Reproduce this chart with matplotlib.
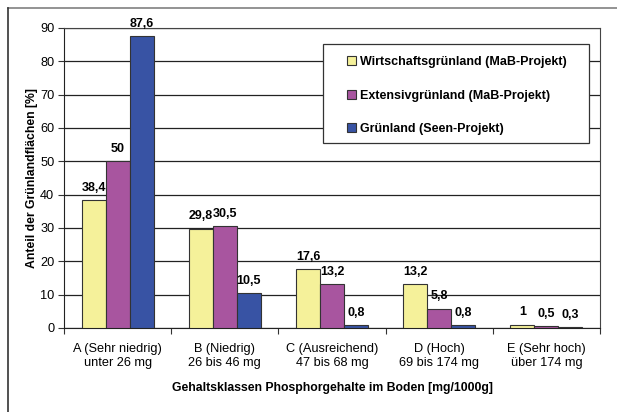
import numpy as np
import matplotlib.pyplot as plt
from matplotlib.lines import Line2D
from matplotlib.patches import Rectangle

plt.rcParams["font.family"] = ["Liberation Sans", "DejaVu Sans"]

# data
categories = ["A (Sehr niedrig)\nunter 26 mg", "B (Niedrig)\n26 bis 46 mg",
              "C (Ausreichend)\n47 bis 68 mg", "D (Hoch)\n69 bis 174 mg",
              "E (Sehr hoch)\nüber 174 mg"]
series_names = ["Wirtschaftsgrünland (MaB-Projekt)",
                "Extensivgrünland (MaB-Projekt)",
                "Grünland (Seen-Projekt)"]
wirtschaft = [38.4, 29.8, 17.6, 13.2, 1]
extensiv = [50, 30.5, 13.2, 5.8, 0.5]
seen = [87.6, 10.5, 0.8, 0.8, 0.3]
labels_w = ["38,4", "29,8", "17,6", "13,2", "1"]
labels_e = ["50", "30,5", "13,2", "5,8", "0,5"]
labels_s = ["87,6", "10,5", "0,8", "0,8", "0,3"]

colors = ["#F5F19A", "#A8559F", "#3853A4"]

W, H = 617, 412
fig = plt.figure(figsize=(W / 100, H / 100), dpi=100)

# outer chart frame (only top and left visible)
fig.add_artist(Line2D([7.5 / W, 1.0], [1 - 7.5 / H, 1 - 7.5 / H], color="#808080", lw=1.2))
fig.add_artist(Line2D([7.5 / W, 7.5 / W], [0, 1 - 7.5 / H], color="#333333", lw=1.2))

ax = fig.add_axes([64 / W, (H - 328) / H, 536 / W, 300 / H])

x = np.arange(len(categories))
bw = 0.224
for i, (vals, labs) in enumerate(zip([wirtschaft, extensiv, seen], [labels_w, labels_e, labels_s])):
    pos = x + (i - 1) * bw
    ax.bar(pos, vals, bw, color=colors[i], edgecolor="#333333", linewidth=0.8,
           label=series_names[i], zorder=3)
    for p, v, l in zip(pos, vals, labs):
        ax.annotate(l, (p, v), xytext=(0, 4.5), textcoords="offset points",
                    ha="center", va="bottom", fontsize=9, fontweight="bold")

ax.set_xlim(-0.5, len(categories) - 0.5)
ax.set_ylim(0, 90)
ax.set_yticks(np.arange(0, 91, 10))
ax.yaxis.grid(True, color="#222222", lw=0.9, zorder=0)
ax.set_axisbelow(True)

# category ticks at boundaries, labels centered
ax.set_xticks(np.arange(-0.5, len(categories), 1))
ax.set_xticklabels([])
ax.set_xticks(x, minor=True)
ax.set_xticklabels(categories, minor=True, fontsize=9.2)
ax.tick_params(axis="x", which="minor", length=0, pad=11)
ax.tick_params(axis="x", which="major", length=4, direction="out", color="#333333")
ax.tick_params(axis="y", length=4, direction="out", labelsize=9.2, pad=3, color="#333333")

for s in ["top", "right"]:
    ax.spines[s].set_color("#444444")
ax.spines["left"].set_color("#222222")
ax.spines["bottom"].set_color("#222222")

ax.set_ylabel("Anteil der Grünlandflächen [%]", fontsize=8.8, fontweight="bold", labelpad=1.5)
ax.set_xlabel("Gehaltsklassen Phosphorgehalte im Boden [mg/1000g]",
              fontsize=8.8, fontweight="bold", labelpad=9)

# legend box drawn separately for exact size
box = Rectangle((323 / W, 1 - 143 / H), 266 / W, 99 / H, transform=fig.transFigure,
                facecolor="white", edgecolor="#333333", lw=0.9, zorder=4, clip_on=False)
ax.add_patch(box)
leg = ax.legend(loc="upper left", bbox_to_anchor=(347 / W, 1 - 56 / H),
                bbox_transform=fig.transFigure, frameon=False,
                handlelength=0.75, handleheight=0.75,
                handletextpad=0.25, labelspacing=1.72, borderpad=0, borderaxespad=0,
                prop={"size": 9, "weight": "bold"})
leg.set_zorder(5)
for h in leg.legend_handles:
    h.set_linewidth(0.8)

fig.savefig("out.png", dpi=100)
